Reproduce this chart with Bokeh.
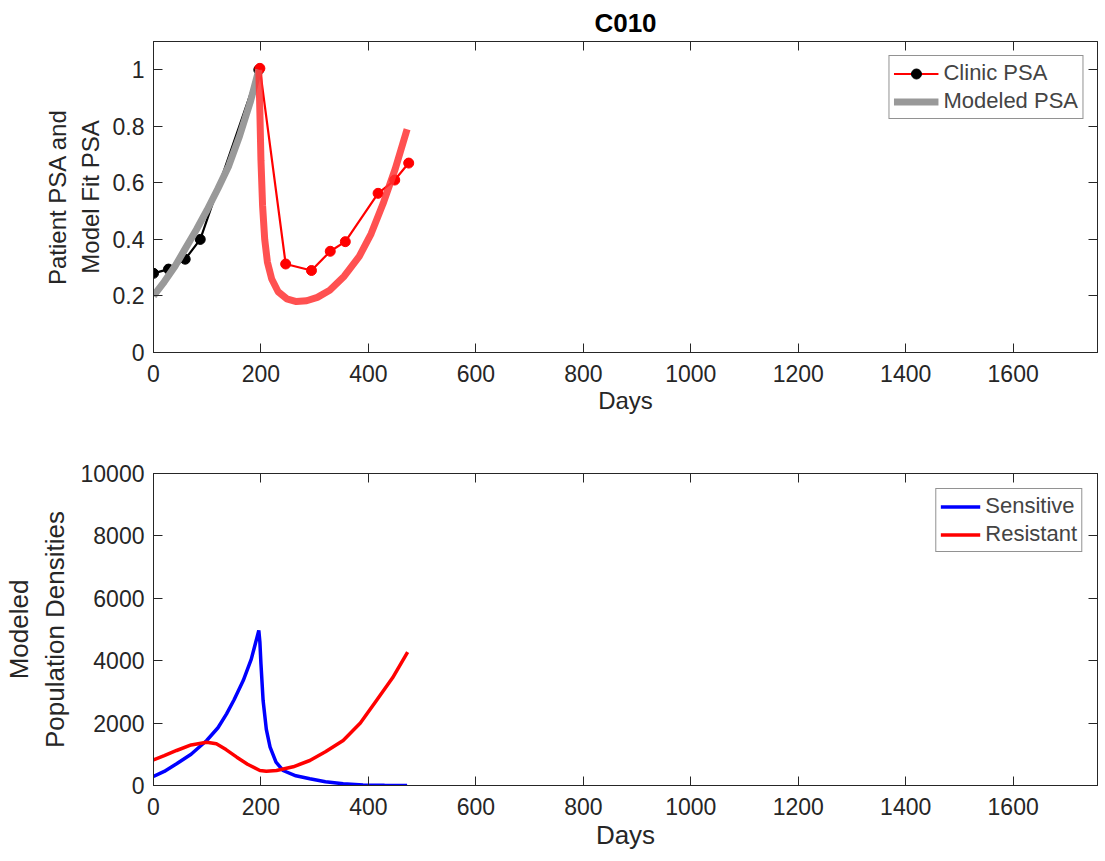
from bokeh.plotting import figure
from bokeh.models import (Range1d, LinearAxis, Legend, LegendItem, FixedTicker, Title)
from bokeh.layouts import column
from bokeh.embed import file_html
from bokeh.resources import INLINE

# ---- data ----
pre_days = [0, 28, 59, 87, 196]
pre_psa = [0.28, 0.295, 0.33, 0.40, 1.0]
post_days = [198, 246, 294, 329, 357, 418, 449, 475]
post_psa = [1.005, 0.313, 0.29, 0.358, 0.392, 0.563, 0.61, 0.67]

fit_pre_days = [0, 20, 40, 60, 80, 100, 120, 140, 160, 180, 196]
fit_pre_psa = [0.20, 0.25, 0.305, 0.37, 0.435, 0.505, 0.58, 0.66, 0.765, 0.885, 1.0]
fit_post_days = [196, 197, 198, 200, 203, 207, 212, 220, 232, 248, 266, 285, 305, 328,
                 355, 383, 405, 427, 450, 472]
fit_post_psa = [1.0, 0.93, 0.85, 0.68, 0.52, 0.40, 0.32, 0.26, 0.215, 0.19, 0.18, 0.183,
                0.195, 0.22, 0.27, 0.34, 0.42, 0.525, 0.65, 0.79]

sens_days = [0, 20, 43, 70, 99, 120, 136, 150, 167, 182, 196, 198, 200, 204, 210, 217,
             228, 241, 265, 291, 320, 353, 390, 430, 472]
sens_vals = [290, 450, 695, 1000, 1442, 1850, 2298, 2750, 3365, 4050, 4968, 4600, 3900,
             2724, 1800, 1228, 750, 481, 310, 214, 120, 53, 20, 8, 2]
res_days = [0, 20, 43, 70, 99, 117, 135, 155, 175, 198, 210, 229, 260, 291, 320, 353,
            385, 415, 445, 473]
res_vals = [823, 960, 1122, 1300, 1389, 1336, 1150, 908, 680, 481, 460, 481, 600, 801,
            1080, 1442, 2000, 2724, 3450, 4273]

x_ticks = [0, 200, 400, 600, 800, 1000, 1200, 1400, 1600]
psa_ticks = [0, 0.2, 0.4, 0.6, 0.8, 1.0]
pop_ticks = [0, 2000, 4000, 6000, 8000, 10000]

FONT = "Liberation Sans"
AX = "#262626"


def style(p, xticks, yticks, tick_size, label_size, xstand, ystand):
    for ax in p.xaxis + p.yaxis:
        ax.major_label_text_font = FONT
        ax.major_label_text_font_size = tick_size
        ax.major_label_text_color = AX
        ax.axis_label_text_font = FONT
        ax.axis_label_text_font_size = label_size
        ax.axis_label_text_font_style = "normal"
        ax.axis_label_text_color = AX
        ax.axis_line_color = AX
        ax.major_tick_line_color = AX
        ax.major_tick_in = 9
        ax.major_tick_out = 0
        ax.minor_tick_line_color = None
    p.xaxis.ticker = FixedTicker(ticks=xticks)
    p.yaxis.ticker = FixedTicker(ticks=yticks)
    p.xaxis.major_label_standoff = 12
    p.yaxis.major_label_standoff = 9
    p.xaxis.axis_label_standoff = xstand
    p.yaxis.axis_label_standoff = ystand
    p.xgrid.visible = False
    p.ygrid.visible = False
    p.outline_line_color = AX
    # mirrored ticks (box on)
    for side, tk in (("right", yticks), ("above", xticks)):
        a = LinearAxis(ticker=FixedTicker(ticks=tk),
                       major_label_overrides={t: "" for t in tk},
                       major_label_text_font_size="1px",
                       major_tick_in=9, major_tick_out=0, minor_tick_line_color=None,
                       axis_line_color=AX, major_tick_line_color=AX,
                       major_label_standoff=0)
        p.add_layout(a, side)


# ---- top figure ----
p1 = figure(width=1103, height=430, output_backend="svg", toolbar_location=None,
            x_range=Range1d(0, 1757), y_range=Range1d(0, 1.1),
            min_border_left=150, min_border_right=6, min_border_top=41,
            min_border_bottom=78)
p1.title = Title(text="C010", align="center", text_font=FONT, text_font_size="26px",
                 text_font_style="bold", text_color="#000000", offset=0, standoff=8)

p1.line(pre_days, pre_psa, line_color="black", line_width=2.2)
p1.scatter(pre_days, pre_psa, size=10, fill_color="black", line_color="black")
p1.line(post_days, post_psa, line_color="red", line_width=2.2)
p1.scatter(post_days, post_psa, size=10, fill_color="red", line_color="red")
p1.line(fit_pre_days, fit_pre_psa, line_color="#999999", line_width=7)
p1.line(fit_post_days, fit_post_psa, line_color="#ff3333", line_width=7, line_alpha=0.85)

hidden_x = [-200, -190]
hidden_y = [-1, -1]
lg_line = p1.line(hidden_x, hidden_y, line_color="red", line_width=2.2)
lg_dot = p1.scatter(hidden_x, hidden_y, size=10, fill_color="black", line_color="black")
lg_gray = p1.line(hidden_x, hidden_y, line_color="#999999", line_width=7)

p1.xaxis.axis_label = "Days"
p1.yaxis.axis_label = "Patient PSA and\nModel Fit PSA"
style(p1, x_ticks, psa_ticks, "23px", "24px", 2, 6)

leg1 = Legend(items=[LegendItem(label="Clinic PSA", renderers=[lg_line, lg_dot]),
                     LegendItem(label="Modeled PSA", renderers=[lg_gray])],
              location="top_right", label_text_font=FONT, label_text_font_size="22px",
              border_line_color=AX, border_line_width=1, background_fill_alpha=1,
              glyph_width=45, spacing=2, padding=4, margin=14, label_height=25,
              glyph_height=25, label_standoff=5)
p1.add_layout(leg1)

# ---- bottom figure ----
p2 = figure(width=1103, height=427, output_backend="svg", toolbar_location=None,
            x_range=Range1d(0, 1757), y_range=Range1d(0, 10000),
            min_border_left=150, min_border_right=6, min_border_top=43,
            min_border_bottom=72)
r_s = p2.line(sens_days, sens_vals, line_color="#0000ff", line_width=3.5)
r_r = p2.line(res_days, res_vals, line_color="#ff0000", line_width=3.5)
p2.xaxis.axis_label = "Days"
p2.yaxis.axis_label = "Modeled\nPopulation Densities"
style(p2, x_ticks, pop_ticks, "23px", "26px", 2, 8)

leg2 = Legend(items=[LegendItem(label="Sensitive", renderers=[r_s]),
                     LegendItem(label="Resistant", renderers=[r_r])],
              location="top_right", label_text_font=FONT, label_text_font_size="22px",
              border_line_color=AX, border_line_width=1, background_fill_alpha=1,
              glyph_width=40, spacing=2, padding=4, margin=15, label_height=25,
              glyph_height=25, label_standoff=5)
p2.add_layout(leg2)

layout = column(p1, p2, spacing=0)
open("out.html", "w").write(file_html(layout, INLINE))
